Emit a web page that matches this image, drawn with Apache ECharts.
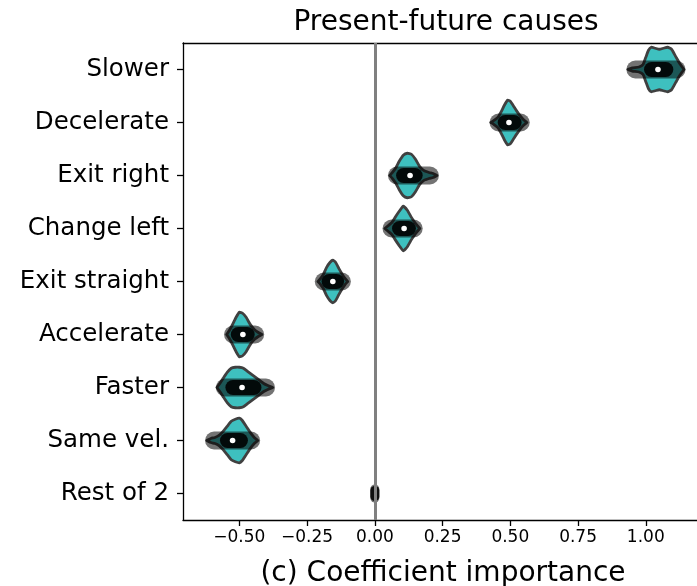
<!DOCTYPE html>
<html>
<head>
<meta charset="utf-8">
<script src="https://cdn.jsdelivr.net/npm/echarts@6/dist/echarts.min.js"></script>
<style>
html,body{margin:0;padding:0;background:#fff;}
#c{width:697px;height:586px;}
</style>
</head>
<body>
<div id="c"></div>
<script>
// ---------- data ----------
const categories = ['Slower','Decelerate','Exit right','Change left','Exit straight','Accelerate','Faster','Same vel.','Rest of 2'];
const xTicks = [-0.5, -0.25, 0, 0.25, 0.5, 0.75, 1.0];
const medians  = [1.045, 0.495, 0.13, 0.108, -0.155, -0.487, -0.49, -0.525, 0];
const q1       = [1.01, 0.47, 0.095, 0.08, -0.18, -0.515, -0.535, -0.555, 0];
const q3       = [1.085, 0.525, 0.16, 0.135, -0.13, -0.46, -0.435, -0.485, 0];
const pointMin = [0.945, 0.44, 0.065, 0.045, -0.205, -0.54, -0.57, -0.61, 0];
const pointMax = [1.13, 0.555, 0.22, 0.16, -0.105, -0.425, -0.385, -0.44, 0];

const slowerValues = [0.934,0.95,0.975,0.99,1.0,1.01,1.02,1.035,1.05,1.065,1.08,1.095,1.11,1.125,1.141];
const slowerDensity = [0,1.5,2.5,5,12,19,22,21,20,21,22,20,13,6,0];
const decelValues = [0.428,0.44,0.454,0.465,0.478,0.49,0.50,0.51,0.522,0.535,0.548,0.561];
const decelDensity = [0,2,5,10,17,22,21,17,12,7,3,0];
const exitRightValues = [0.055,0.065,0.078,0.09,0.105,0.12,0.135,0.15,0.165,0.18,0.2,0.215,0.229];
const exitRightDensity = [0,3,8,14,20,22,21,16,9,5,3,2,0];
const changeLeftValues = [0.037,0.05,0.063,0.075,0.09,0.105,0.12,0.135,0.15,0.166];
const changeLeftDensity = [0,3,6,11,17,22,18,11,5,0];
const exitStraightValues = [-0.21,-0.2,-0.19,-0.178,-0.165,-0.155,-0.145,-0.133,-0.12,-0.11,-0.1];
const exitStraightDensity = [0,3,7,14,19,21,19,13,7,3,0];
const accelValues = [-0.547,-0.537,-0.525,-0.512,-0.5,-0.488,-0.475,-0.46,-0.445,-0.43,-0.417];
const accelDensity = [0,4,10,17,22,21,17,10,5,2,0];
const fasterValues = [-0.583,-0.572,-0.56,-0.545,-0.53,-0.515,-0.5,-0.485,-0.47,-0.455,-0.44,-0.425,-0.41,-0.395,-0.377];
const fasterDensity = [0,4,9,15,19,20,20,19,16,13,10,7,4,2,0];
const sameVelValues = [-0.62,-0.605,-0.59,-0.575,-0.56,-0.545,-0.53,-0.515,-0.5,-0.49,-0.475,-0.46,-0.445,-0.432];
const sameVelDensity = [0,2,3,5,9,14,19,21,22,20,14,8,3,0];
const restValues = [];
const restDensity = [];

const profileValues = [slowerValues, decelValues, exitRightValues, changeLeftValues, exitStraightValues, accelValues, fasterValues, sameVelValues, restValues];
const profileDensity = [slowerDensity, decelDensity, exitRightDensity, changeLeftDensity, exitStraightDensity, accelDensity, fasterDensity, sameVelDensity, restDensity];

// ---------- styling ----------
const FONT = 'DejaVu Sans';
const DENS_MAX = 22;
const HALF_WIDTH = 0.42; // fraction of band for max density
const X_MIN = -0.708, X_MAX = 1.189;

function renderViolin(params, api) {
  const i = api.value(1);
  const band = api.size([0, 1])[1];
  const children = [];
  const vals = profileValues[i], dens = profileDensity[i];
  if (vals.length) {
    const top = [], bot = [];
    for (let k = 0; k < vals.length; k++) {
      const p = api.coord([vals[k], i]);
      const h = dens[k] / DENS_MAX * HALF_WIDTH * band;
      top.push([p[0], p[1] - h]);
      bot.push([p[0], p[1] + h]);
    }
    children.push({
      type: 'polygon',
      shape: { points: top.concat(bot.reverse()), smooth: 0.15 },
      style: { fill: '#3ec0bf', stroke: '#404040', lineWidth: 2.8, lineJoin: 'round' }
    });
  }
  // strip points blob
  const a = api.coord([pointMin[i], i]), b = api.coord([pointMax[i], i]);
  const dotR = 4.5, bh = 18;
  const w1 = b[0] - a[0] + 2 * dotR;
  children.push({
    type: 'rect',
    shape: { x: a[0] - dotR, y: a[1] - bh / 2, width: w1, height: bh, r: Math.min(w1 / 2, bh / 2) },
    style: { fill: 'rgba(0,0,0,0.55)' }
  });
  // IQR box
  const c = api.coord([q1[i], i]), d = api.coord([q3[i], i]);
  const bh2 = 15;
  const w2 = d[0] - c[0] + 2 * dotR;
  children.push({
    type: 'rect',
    shape: { x: c[0] - dotR, y: c[1] - bh2 / 2, width: w2, height: bh2, r: Math.min(w2 / 2, bh2 / 2) },
    style: { fill: 'rgba(0,0,0,0.88)' }
  });
  if (pointMax[i] > pointMin[i]) {
    const m = api.coord([medians[i], i]);
    children.push({
      type: 'circle',
      shape: { cx: m[0], cy: m[1], r: 2.8 },
      style: { fill: '#ffffff' }
    });
  }
  return { type: 'group', children: children };
}

const chart = echarts.init(document.getElementById('c'), null, { renderer: 'canvas' });
chart.setOption({
  animation: false,
  backgroundColor: '#ffffff',
  textStyle: { fontFamily: FONT },
  grid: { left: 183, top: 43, right: 0, bottom: 66, show: false, containLabel: false },
  xAxis: [{
    type: 'value', min: X_MIN, max: X_MAX,
    splitLine: { show: false },
    axisLine: { show: true, onZero: false, lineStyle: { color: '#000', width: 1.3 } },
    axisTick: { show: true, customValues: xTicks, length: 6, lineStyle: { color: '#000', width: 1.3 } },
    axisLabel: {
      customValues: xTicks, color: '#000', fontSize: 17, fontFamily: FONT, margin: 9,
      formatter: v => (v < 0 ? '\u2212' : '') + Math.abs(v).toFixed(2)
    }
  }, {
    type: 'value', min: X_MIN, max: X_MAX, position: 'top',
    splitLine: { show: false },
    axisLine: { show: true, onZero: false, lineStyle: { color: '#000', width: 1.3 } },
    axisTick: { show: false }, axisLabel: { show: false }
  }],
  yAxis: {
    type: 'category', data: categories, inverse: true,
    axisLine: { show: true, onZero: false, lineStyle: { color: '#000', width: 1.3 } },
    axisTick: { show: true, alignWithLabel: true, length: 6, lineStyle: { color: '#000', width: 1.3 } },
    axisLabel: { color: '#000', fontSize: 24.5, fontFamily: FONT, margin: 14 },
    splitLine: { show: false }
  },
  graphic: [
    { type: 'text', x: 446, y: 23, style: { text: 'Present-future causes', fontSize: 28, fontFamily: FONT, fill: '#000', align: 'center', verticalAlign: 'middle' } },
    { type: 'text', x: 443, y: 574, style: { text: '(c) Coefficient importance', fontSize: 28, fontFamily: FONT, fill: '#000', align: 'center', verticalAlign: 'middle' } }
  ],
  series: [
    {
      type: 'line', data: [], z: 1, xAxisIndex: 0,
      markLine: {
        silent: true, symbol: 'none', label: { show: false }, animation: false,
        lineStyle: { color: '#808080', width: 3, type: 'solid' },
        data: [{ xAxis: 0 }]
      }
    },
    {
      type: 'custom', z: 3, xAxisIndex: 0,
      renderItem: renderViolin,
      encode: { x: 0, y: 1 },
      data: categories.map((c, i) => [medians[i], i])
    }
  ]
});
</script>
</body>
</html>
